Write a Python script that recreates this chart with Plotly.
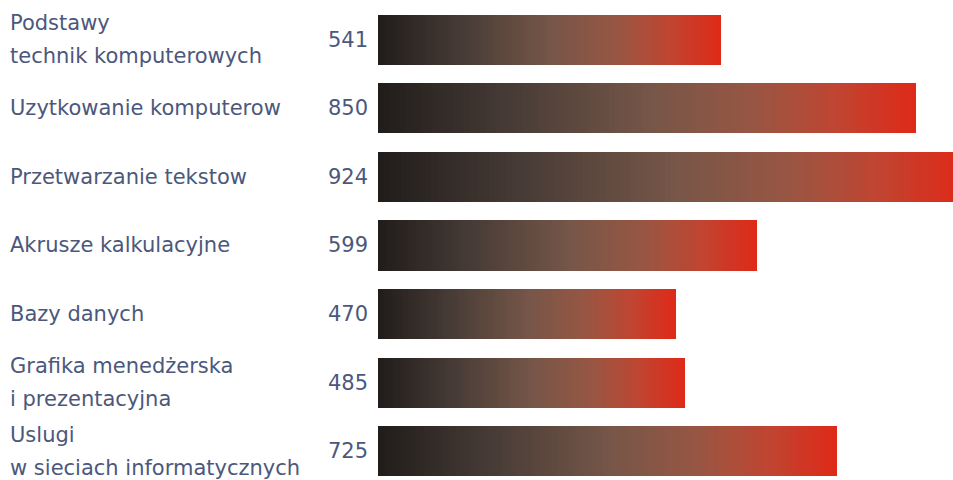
import plotly.graph_objects as go

categories = [
    "Podstawy\ntechnik komputerowych",
    "Uzytkowanie komputerow",
    "Przetwarzanie tekstow",
    "Akrusze kalkulacyjne",
    "Bazy danych",
    "Grafika menedżerska\ni prezentacyjna",
    "Uslugi\nw sieciach informatycznych",
]
values = [541, 850, 924, 599, 470, 485, 725]

# gradient stops (position, rgb)
stops = [
    (0.0, (33, 29, 27)),
    (0.25, (72, 60, 55)),
    (0.5, (117, 86, 72)),
    (0.7, (152, 86, 67)),
    (0.85, (190, 70, 50)),
    (1.0, (222, 42, 24)),
]

def grad(t):
    for (p0, c0), (p1, c1) in zip(stops[:-1], stops[1:]):
        if t <= p1:
            f = (t - p0) / (p1 - p0) if p1 > p0 else 0
            return "rgb(%d,%d,%d)" % tuple(round(a + (b - a) * f) for a, b in zip(c0, c1))
    return "rgb(%d,%d,%d)" % stops[-1][1]

N = 100
keys = [c.replace("\n", " ") for c in categories]
fig = go.Figure()
for j in range(N):
    fig.add_trace(go.Bar(
        y=keys, x=[v / N for v in values], orientation="h",
        marker=dict(color=grad(j / (N - 1)), line=dict(width=0)),
        hoverinfo="skip", showlegend=False,
    ))

txt_color = "#4b587c"
font = dict(family="DejaVu Sans", size=21, color=txt_color)
ann = []
for k, c, v in zip(keys, categories, values):
    lines = c.split("\n")
    n = len(lines)
    for i, ln in enumerate(lines):
        ann.append(dict(x=0, y=k, xref="paper", yref="y", text=ln, showarrow=False,
                        xanchor="left", xshift=-370, yshift=(n - 1) * 16.5 - i * 33,
                        font=font))
    ann.append(dict(x=0, y=k, xref="paper", yref="y", text=str(v), showarrow=False,
                    xanchor="right", xshift=-8, font=font))

fig.update_layout(
    width=953, height=480,
    margin=dict(l=378, r=0, t=0, b=0),
    barmode="stack", bargap=0.27,
    plot_bgcolor="white", paper_bgcolor="white",
    xaxis=dict(range=[0, 908], visible=False, fixedrange=True),
    yaxis=dict(range=[6.42, -0.58], visible=False, fixedrange=True,
               categoryorder="array", categoryarray=keys),
    annotations=ann,
)
fig.write_html("out.html", config={"displayModeBar": False},
               post_script="document.body.style.margin='0';document.body.style.overflow='hidden';")
